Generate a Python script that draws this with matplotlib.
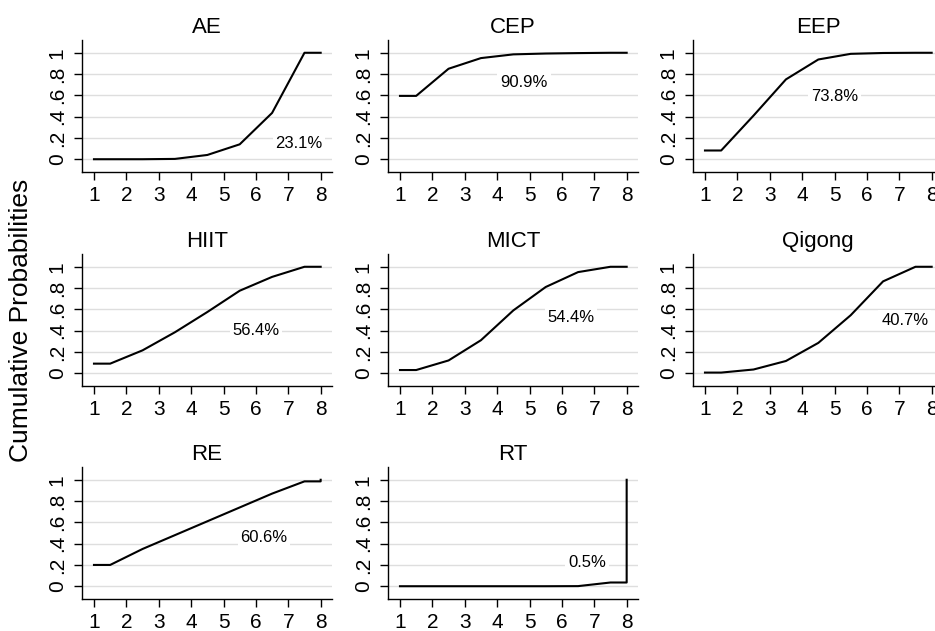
import matplotlib
import matplotlib.pyplot as plt

matplotlib.use('Agg')
plt.rcParams['font.family'] = ['Liberation Sans', 'DejaVu Sans']

# cumulative ranking probabilities for ranks 1..8
treatments = ["AE", "CEP", "EEP", "HIIT", "MICT", "Qigong", "RE", "RT"]
cum_ae = [0.0, 0.0, 0.003, 0.04, 0.14, 0.435, 1.0, 1.0]
cum_cep = [0.595, 0.85, 0.95, 0.985, 0.993, 0.997, 1.0, 1.0]
cum_eep = [0.082, 0.41, 0.75, 0.937, 0.99, 0.998, 1.0, 1.0]
cum_hiit = [0.09, 0.215, 0.385, 0.575, 0.775, 0.905, 1.0, 1.0]
cum_mict = [0.03, 0.12, 0.31, 0.59, 0.81, 0.95, 1.0, 1.0]
cum_qigong = [0.006, 0.035, 0.115, 0.285, 0.545, 0.863, 1.0, 1.0]
cum_re = [0.2, 0.35, 0.48, 0.61, 0.74, 0.87, 0.985, 1.0]
cum_rt = [0.0, 0.0, 0.0, 0.0, 0.0, 0.001, 0.035, 1.0]
sucra = ["23.1%", "90.9%", "73.8%", "56.4%", "54.4%", "40.7%", "60.6%", "0.5%"]

curves = [cum_ae, cum_cep, cum_eep, cum_hiit, cum_mict, cum_qigong, cum_re, cum_rt]
ranks = [1, 2, 3, 4, 5, 6, 7, 8]
ytick_vals = [0, 0.2, 0.4, 0.6, 0.8, 1]
ytick_labels = ["0", ".2", ".4", ".6", ".8", "1"]

# where the SUCRA label sits in each panel (data coords)
label_pos = [(7.33, 0.15), (4.83, 0.72), (5.0, 0.585), (6.0, 0.405),
             (6.28, 0.52), (7.17, 0.5), (6.25, 0.46), (6.77, 0.22)]

W, H = 935, 631
fig = plt.figure(figsize=(W / 100, H / 100), dpi=100)

col_left = [82, 388, 693]
row_bottom = [172, 386, 599]
ax_w, ax_h = 250, 132

for i, name in enumerate(treatments):
    r, c = divmod(i, 3)
    ax = fig.add_axes([col_left[c] / W, 1 - row_bottom[r] / H, ax_w / W, ax_h / H])
    cp = curves[i]
    # step at each half-rank, flat ends, jump to rank 8 at x=8
    xs = [1] + [k + 0.5 for k in ranks[:7]] + [8, 8]
    ys = [cp[0]] + cp[:7] + [cp[6], cp[7]]
    ax.plot(xs, ys, color='black', lw=1.5, zorder=3)

    ax.set_xlim(0.63, 8.35)
    ax.set_ylim(-0.12, 1.12)
    ax.set_xticks(ranks)
    ax.set_yticks(ytick_vals)
    ax.set_yticklabels(ytick_labels, rotation=90, va='center')
    ax.tick_params(axis='both', direction='out', length=6, width=1.0,
                   labelsize=15, color='black')
    ax.tick_params(axis='x', pad=4)
    ax.tick_params(axis='y', pad=5)
    for s in ['top', 'right']:
        ax.spines[s].set_visible(False)
    for s in ['left', 'bottom']:
        ax.spines[s].set_linewidth(1.0)
    ax.grid(axis='y', color='#dedede', lw=1.0, zorder=0)
    ax.set_axisbelow(True)
    ax.set_title(name, fontsize=16, pad=5)

    lx, ly = label_pos[i]
    ax.text(lx, ly, sucra[i], fontsize=12, ha='center', va='center', zorder=4,
            bbox=dict(facecolor='white', edgecolor='none', pad=2))

fig.text(21 / W, 1 - 320 / H, "Cumulative Probabilities", rotation=90,
         fontsize=19, ha='center', va='center')

fig.savefig('out.png', dpi=100, facecolor='white')
